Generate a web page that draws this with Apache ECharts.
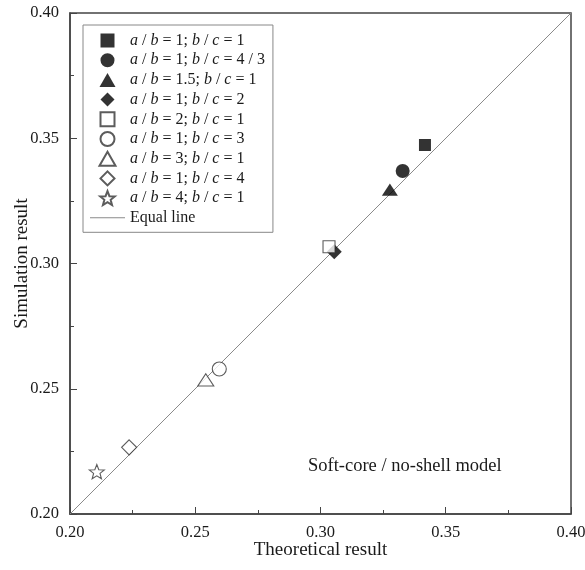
<!DOCTYPE html>
<html>
<head>
<meta charset="utf-8">
<script src="https://cdn.jsdelivr.net/npm/echarts@6/dist/echarts.min.js"></script>
<style>
  html, body { margin: 0; padding: 0; background: #fff; }
  #chart { width: 585px; height: 570px; }
</style>
</head>
<body>
<div id="chart"></div>
<script>
// Series names (a/b and b/c ratios) and their [theoretical, simulation] points
const seriesNames = [
  'a / b = 1; b / c = 1',
  'a / b = 1; b / c = 4 / 3',
  'a / b = 1.5; b / c = 1',
  'a / b = 1; b / c = 2',
  'a / b = 2; b / c = 1',
  'a / b = 1; b / c = 3',
  'a / b = 3; b / c = 1',
  'a / b = 1; b / c = 4',
  'a / b = 4; b / c = 1'
];
const theoretical = [0.3417, 0.3328, 0.3277, 0.3055, 0.3034, 0.2596, 0.2542, 0.2236, 0.2107];
const simulation  = [0.3473, 0.3369, 0.3295, 0.3047, 0.3067, 0.2579, 0.2535, 0.2266, 0.2169];
const equalLine = [[0.20, 0.20], [0.40, 0.40]];
const axisTicks = [0.20, 0.25, 0.30, 0.35, 0.40];

// marker outlines as paths so legend icons keep their proportions
const SQUARE = 'path://M0,0 L12,0 L12,12 L0,12 Z';
const CIRCLE = 'path://M7,0 A7,7 0 1 1 6.99,0 Z';
const TRIANGLE = 'path://M8,0 L16,14 L0,14 Z';
const DIAMOND = 'path://M7.5,0 L15,7.5 L7.5,15 L0,7.5 Z';
const STAR = 'path://M12,1 L14.9,8.6 L23,9 L16.7,14.1 L18.8,22 L12,17.6 L5.2,22 L7.3,14.1 L1,9 L9.1,8.6 Z';
const markerShapes = [SQUARE, CIRCLE, TRIANGLE, DIAMOND, SQUARE, CIRCLE, TRIANGLE, DIAMOND, STAR];
const markerSizes = [[12, 12], 14, [16, 14], [15, 15], [12, 12], 14, [16, 14], [15, 15], [15, 15]];
const filled = [true, true, true, true, false, false, false, false, false];

const FONT = '"Liberation Serif", "DejaVu Serif", serif';
const INK = '#1a1a1a';

function richName(name) {
  // italicise the ratio variables
  return name.replace(/\b([abc])\b/g, '{i|$1}');
}

const scatterSeries = seriesNames.map((name, k) => ({
  name: name,
  type: 'scatter',
  symbol: markerShapes[k],
  symbolSize: markerSizes[k],
  symbolKeepAspect: true,
  z: 3,
  itemStyle: filled[k]
    ? { color: '#000', borderColor: '#000', borderWidth: 0 }
    : { color: '#fff', borderColor: '#333', borderWidth: 1.1 },
  data: [[theoretical[k], simulation[k]]]
}));

const axisCommon = {
  type: 'value',
  min: 0.20,
  max: 0.40,
  interval: 0.05,
  axisLine: { show: true, onZero: false, lineStyle: { color: '#444', width: 1.5 } },
  axisTick: { show: true, inside: true, length: 7, lineStyle: { color: '#444', width: 1 } },
  minorTick: { show: true, splitNumber: 2, length: 4, lineStyle: { color: '#444', width: 1 } },
  splitLine: { show: false },
  axisLabel: {
    color: INK, fontFamily: FONT, fontSize: 16.5,
    formatter: v => {
      const hit = axisTicks.find(t => Math.abs(t - v) < 1e-9);
      return hit === undefined ? '' : hit.toFixed(2);
    }
  },
  nameLocation: 'middle',
  nameMoveOverlap: false,
  nameTextStyle: { color: INK, fontFamily: FONT, fontSize: 19 }
};

const legendText = {
  color: INK, fontFamily: FONT, fontSize: 16, lineHeight: 17,
  rich: { i: { fontStyle: 'italic', fontFamily: FONT, fontSize: 16, lineHeight: 17, color: INK } }
};

const legendItems = seriesNames.map((name, k) => ({ name: name, icon: markerShapes[k] }));

const chart = echarts.init(document.getElementById('chart'), null, { renderer: 'canvas' });
chart.setOption({
  backgroundColor: '#fff',
  animation: false,
  grid: {
    left: 70, top: 13, width: 501, height: 501,
    outerBoundsMode: 'none',
    containLabel: false,
    show: true, borderColor: '#444', borderWidth: 1.5, backgroundColor: 'transparent'
  },
  xAxis: Object.assign({}, axisCommon, {
    name: 'Theoretical result', nameGap: 27,
    axisLabel: Object.assign({}, axisCommon.axisLabel, { margin: 10 })
  }),
  yAxis: Object.assign({}, axisCommon, {
    name: 'Simulation result', nameGap: 38,
    axisLabel: Object.assign({}, axisCommon.axisLabel, { margin: 11 })
  }),
  legend: {
    orient: 'vertical',
    left: 83, top: 25,
    padding: [7, 8, 6, 7],
    itemWidth: 35, itemHeight: 14, itemGap: 2.7,
    symbolKeepAspect: true,
    borderColor: '#888', borderWidth: 1,
    backgroundColor: '#fff',
    data: legendItems.concat([{
      name: 'Equal line',
      icon: 'path://M0,0 L35,0 L35,1 L0,1 Z',
      itemStyle: { color: '#8a8a8a', borderWidth: 0 }
    }]),
    formatter: n => richName(n),
    textStyle: legendText
  },
  graphic: [{
    type: 'text',
    left: 308, top: 457,
    style: { text: 'Soft-core / no-shell model', font: '18.5px ' + FONT, fill: INK }
  }],
  series: [{
    name: 'Equal line',
    type: 'line',
    symbol: 'none',
    z: 2,
    itemStyle: { color: '#8a8a8a' },
    lineStyle: { color: '#8a8a8a', width: 1 },
    data: equalLine
  }].concat(scatterSeries)
});
</script>
</body>
</html>
